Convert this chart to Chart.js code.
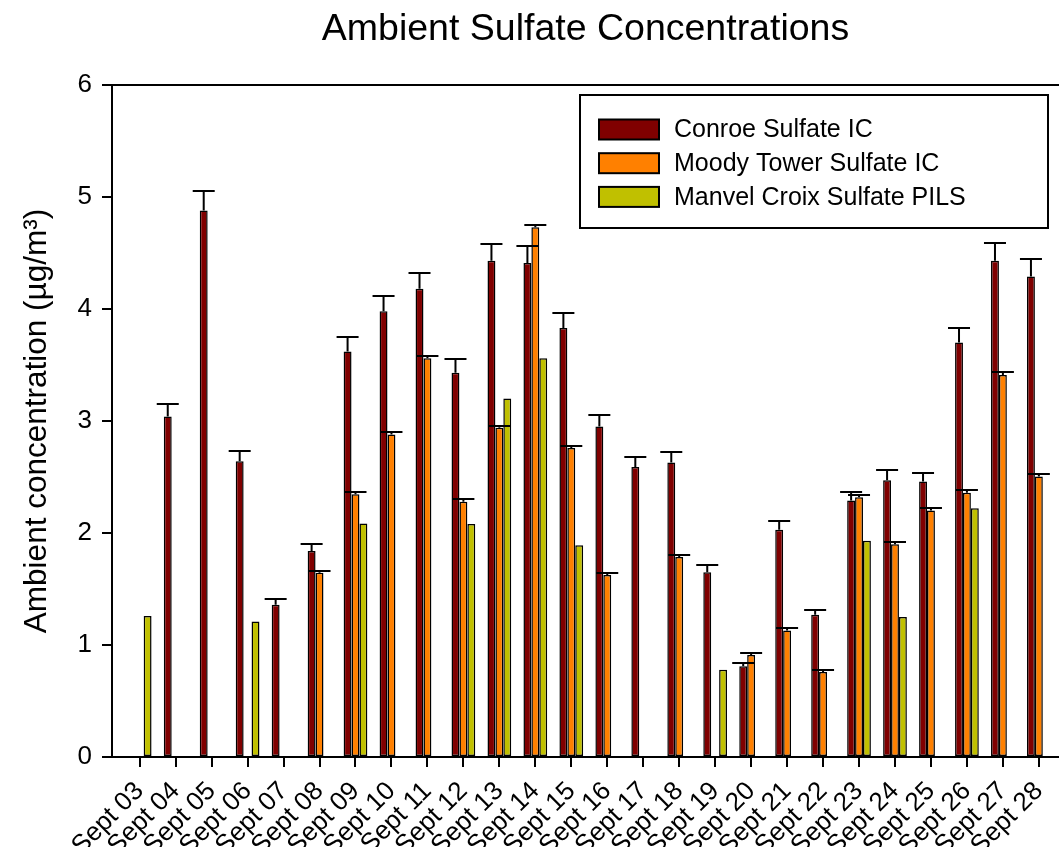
<!DOCTYPE html>
<html>
<head>
<meta charset="utf-8">
<script src="https://cdn.jsdelivr.net/npm/chart.js@4.4.0/dist/chart.umd.min.js"></script>
<style>
    html, body { margin: 0; padding: 0; background: #fff; }
    #wrap { width: 1059px; height: 847px; }
</style>
</head>
<body>
<div id="wrap"><canvas id="sulfateChart" width="1059" height="847"></canvas></div>
<script>
// Sept 03 .. Sept 28, one entry per day (null = no sample)
const categories = ['Sept 03', 'Sept 04', 'Sept 05', 'Sept 06', 'Sept 07', 'Sept 08', 'Sept 09',
    'Sept 10', 'Sept 11', 'Sept 12', 'Sept 13', 'Sept 14', 'Sept 15', 'Sept 16', 'Sept 17',
    'Sept 18', 'Sept 19', 'Sept 20', 'Sept 21', 'Sept 22', 'Sept 23', 'Sept 24', 'Sept 25',
    'Sept 26', 'Sept 27', 'Sept 28'];

const conroe = [null, 3.04, 4.88, 2.64, 1.36, 1.84, 3.62, 3.98, 4.18, 3.43, 4.43, 4.41, 3.83,
    2.95, 2.59, 2.63, 1.65, 0.81, 2.03, 1.27, 2.29, 2.47, 2.46, 3.70, 4.43, 4.29];
const conroeErr = [null, 0.11, 0.17, 0.09, 0.05, 0.06, 0.13, 0.14, 0.14, 0.12, 0.15, 0.15, 0.13,
    0.10, 0.09, 0.09, 0.06, 0.03, 0.08, 0.04, 0.08, 0.09, 0.08, 0.13, 0.16, 0.16];

const moody = [null, null, null, null, null, 1.645, 2.345, 2.88, 3.56, 2.28, 2.94, 4.73, 2.76,
    1.625, null, 1.785, null, 0.91, 1.13, 0.76, 2.32, 1.90, 2.20, 2.36, 3.41, 2.505];
const moodyErr = [null, null, null, null, null, 0.02, 0.02, 0.02, 0.02, 0.02, 0.015, 0.02, 0.02,
    0.02, null, 0.02, null, 0.02, 0.02, 0.02, 0.02, 0.02, 0.02, 0.02, 0.03, 0.02];

const manvel = [1.26, null, null, 1.21, null, null, 2.085, null, null, 2.08, 3.20, 3.56, 1.89,
    null, null, null, 0.78, null, null, null, 1.93, 1.25, null, 2.22, null, null];

const yTicks = [0, 1, 2, 3, 4, 5, 6];

Chart.defaults.font.family = "'Liberation Sans', Arial, sans-serif";
Chart.defaults.color = '#000';

const toPoints = arr => arr.map((v, i) => ({ x: i, y: v }));

// upper error bars with a cap, drawn on top of all bars
const errorBars = {
    id: 'errorBars',
    afterDatasetsDraw(chart) {
        const ctx = chart.ctx;
        const yScale = chart.scales.y;
        ctx.save();
        ctx.strokeStyle = '#000';
        ctx.lineWidth = 2;
        chart.data.datasets.forEach((ds, di) => {
            if (!ds.errors) return;
            chart.getDatasetMeta(di).data.forEach((bar, i) => {
                const v = ds.data[i].y;
                const e = ds.errors[i];
                if (v == null || e == null) return;
                const yCap = Math.round(yScale.getPixelForValue(v + e));
                ctx.beginPath();
                ctx.moveTo(bar.x, bar.y);
                ctx.lineTo(bar.x, yCap);
                ctx.moveTo(bar.x - 11, yCap);
                ctx.lineTo(bar.x + 11, yCap);
                ctx.stroke();
            });
        });
        ctx.restore();
    }
};

// top edge of the plot frame
const frameTop = {
    id: 'frameTop',
    afterDraw(chart) {
        const { ctx, chartArea } = chart;
        ctx.save();
        ctx.strokeStyle = '#000';
        ctx.lineWidth = 2;
        ctx.beginPath();
        ctx.moveTo(chartArea.left, chartArea.top);
        ctx.lineTo(chartArea.right, chartArea.top);
        ctx.stroke();
        ctx.restore();
    }
};

// boxed legend in the upper right of the plot
const boxLegend = {
    id: 'boxLegend',
    afterDraw(chart) {
        const ctx = chart.ctx;
        const box = { x: 580, y: 95, w: 468, h: 133 };
        ctx.save();
        ctx.fillStyle = '#fff';
        ctx.fillRect(box.x, box.y, box.w, box.h);
        ctx.strokeStyle = '#000';
        ctx.lineWidth = 2;
        ctx.strokeRect(box.x, box.y, box.w, box.h);
        ctx.font = "25px 'Liberation Sans', Arial, sans-serif";
        ctx.textBaseline = 'middle';
        chart.data.datasets.forEach((ds, i) => {
            const cy = 129.5 + i * 33.7;
            ctx.fillStyle = ds.backgroundColor;
            ctx.fillRect(599, cy - 10, 60, 20);
            ctx.strokeRect(599, cy - 10, 60, 20);
            ctx.fillStyle = '#000';
            ctx.fillText(ds.label, 674, cy + 1);
        });
        ctx.restore();
    }
};

const ctx = document.getElementById('sulfateChart');
new Chart(ctx, {
    type: 'bar',
    data: {
        datasets: [
            { label: 'Conroe Sulfate IC', data: toPoints(conroe), errors: conroeErr, backgroundColor: '#800000' },
            { label: 'Moody Tower Sulfate IC', data: toPoints(moody), errors: moodyErr, backgroundColor: '#ff8000' },
            { label: 'Manvel Croix Sulfate PILS', data: toPoints(manvel), backgroundColor: '#c0c000' }
        ]
    },
    options: {
        responsive: false,
        animation: false,
        layout: { padding: 0 },
        datasets: {
            bar: {
                categoryPercentage: 0.66,
                barPercentage: 1,
                borderColor: '#000',
                borderWidth: 1.5,
                borderSkipped: false
            }
        },
        scales: {
            x: {
                type: 'linear',
                min: -0.77,
                max: 25.56,
                offset: false,
                afterFit: s => {
                    s.height = 90;
                    s.paddingLeft = 0;
                    s.paddingRight = 0;
                },
                afterBuildTicks: s => { s.ticks = categories.map((c, i) => ({ value: i })); },
                grid: { drawOnChartArea: false, drawTicks: true, tickLength: 10, color: '#000', lineWidth: 2, offset: false },
                border: { display: true, color: '#000', width: 2 },
                ticks: {
                    autoSkip: false,
                    maxRotation: 45,
                    minRotation: 45,
                    padding: 9,
                    font: { size: 26 },
                    callback: v => categories[v] ?? ''
                }
            },
            y: {
                min: 0,
                max: 6,
                afterFit: s => { s.width = 112; },
                afterBuildTicks: s => { s.ticks = yTicks.map(v => ({ value: v })); },
                grid: { drawOnChartArea: false, drawTicks: true, tickLength: 10, color: '#000', lineWidth: 2 },
                border: { display: true, color: '#000', width: 2 },
                ticks: { padding: 10, font: { size: 26 } },
                title: {
                    display: true,
                    text: 'Ambient concentration (µg/m³)',
                    font: { size: 31.5 },
                    padding: { top: 18, bottom: 0 }
                }
            }
        },
        plugins: {
            legend: { display: false },
            tooltip: { enabled: false },
            title: {
                display: true,
                text: 'Ambient Sulfate Concentrations',
                fullSize: false,
                font: { size: 37.5, weight: 'normal' },
                padding: { top: 7, bottom: 33 }
            }
        }
    },
    plugins: [errorBars, frameTop, boxLegend]
});
</script>
</body>
</html>
